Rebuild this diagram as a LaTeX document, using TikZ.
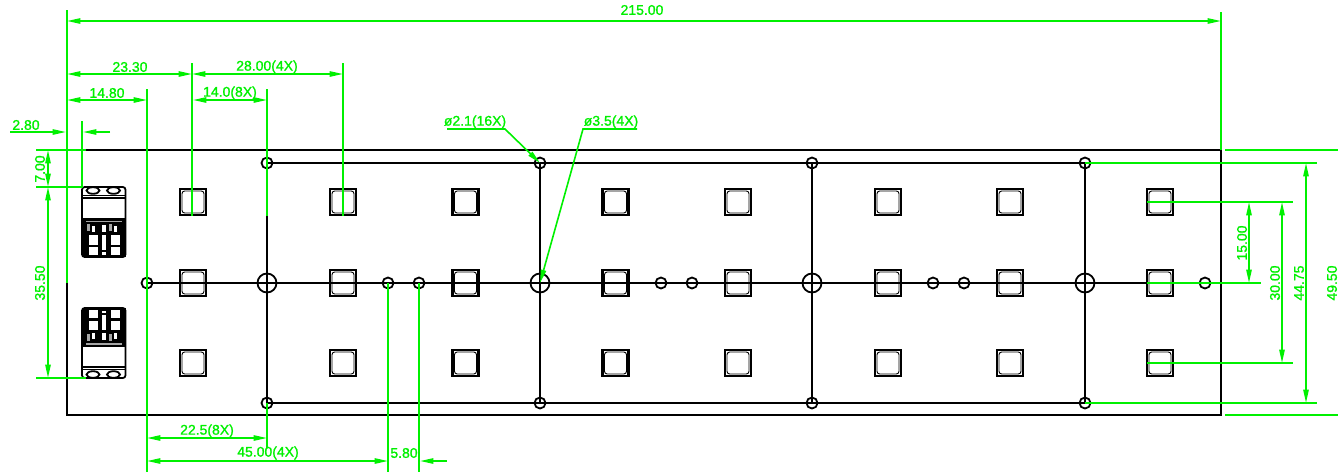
\documentclass[tikz,border=0pt]{standalone}
\usepackage{fontspec}
\setmainfont{Liberation Sans}
\newfontfamily\dimfont[FakeBold=1.2]{Liberation Sans}
\usetikzlibrary{arrows.meta}
\definecolor{dimgreen}{RGB}{0,240,0}
\tikzset{
  part/.style={line width=1.35pt,black},
  padline/.style={line width=1.9pt,black},
  dimline/.style={line width=1.35pt,dimgreen},
  dimtip/.style={dimgreen,{Triangle[length=10pt,width=4pt]}-{Triangle[length=10pt,width=4pt]},line width=1.2pt},
  endtip/.style={dimgreen,-{Triangle[length=10pt,width=4pt]},line width=1.2pt},
  dimtext/.style={dimgreen,inner sep=0pt,font=\dimfont\fontsize{10.5}{11}\selectfont},
  vdimtext/.style={dimtext,rotate=90}
}
\begin{document}
\begin{tikzpicture}[x=0.75pt,y=-0.75pt]
    \useasboundingbox (0,0) rectangle (1338,472);

    % plate and rails
    \draw[part] (67,150) rectangle (1221,415);
    \draw[part] (267,163) rectangle (1085,403);
    \draw[part] (147,283) -- (1205,283);
    \draw[part] (540,163) -- (540,403);
    \draw[part] (812,163) -- (812,403);

    % holes
    \foreach \holex in {267,540,812,1085} {
        \draw[part] (\holex,163) circle (5.5);
        \draw[part] (\holex,403) circle (5.5);
        \draw[part] (\holex,283) circle (9.5);
    }
    \foreach \holex in {147,388,419,661,692,933,964,1205} {
        \draw[part] (\holex,283) circle (5.5);
    }

    % square pads
    \foreach \padx in {193,343,465.5,615.5,738,888,1010,1160} {
        \foreach \pady in {202,283,363} {
            \draw[padline] (\padx-13,\pady-13) rectangle (\padx+13,\pady+13);
            \draw[line width=0.7pt,rounded corners=2pt] (\padx-11,\pady-11) rectangle (\padx+11,\pady+11);
        }
    }

    % the two connectors, one mirrored
    \foreach \cony/\consign in {187/1,378/-1} {
        \begin{scope}[shift={(0,\cony)},yscale=\consign]
            \fill[black] (82,31) rectangle (125.5,70);
            \draw[part,rounded corners=2pt] (82,0) rectangle (125.5,70);
            \draw[part] (93,3.5) ellipse (6.5 and 3.3);
            \draw[part] (113.5,3.5) ellipse (6.5 and 3.3);
            \draw[part] (82,8.5) -- (125.5,8.5);
            \draw[part] (82,11) -- (125.5,11);
            \fill[gray!70] (86,33.5) rectangle (122,35);
            \foreach \winx in {89,111} {
                \fill[white] (\winx,48) rectangle (\winx+8.5,57.5);
                \fill[white] (\winx,60) rectangle (\winx+8.5,68);
                \fill[white] (\winx+3,39) rectangle (\winx+6,45);
                \fill[gray!70] (\winx-2,37) rectangle (\winx+1,44);
            }
            \fill[white] (102,38) rectangle (106,45);
            \fill[white] (102,48) rectangle (106,63);
            \fill[white] (102,65) rectangle (106,67.5);
        \end{scope}
    }

    % extension lines
    \draw[dimline] (67,10) -- (67,283);
    \draw[dimline] (1221,12) -- (1221,150);
    \draw[dimline] (192,63) -- (192,216);
    \draw[dimline] (343,63) -- (343,216);
    \draw[dimline] (147,89) -- (147,472);
    \draw[dimline] (267,89) -- (267,216);
    \draw[dimline] (82,121) -- (82,187);
    \draw[dimline] (36,150) -- (86,150);
    \draw[dimline] (36,187) -- (83,187);
    \draw[dimline] (36,378) -- (86,378);
    \draw[dimline] (267,403) -- (267,448);
    \draw[dimline] (388,283) -- (388,472);
    \draw[dimline] (419,283) -- (419,472);
    \draw[dimline] (1225,150) -- (1338,150);
    \draw[dimline] (1225,415) -- (1338,415);
    \draw[dimline] (1085,163) -- (1317,163);
    \draw[dimline] (1085,403) -- (1317,403);
    \draw[dimline] (1147,202) -- (1293,202);
    \draw[dimline] (1147,363) -- (1293,363);
    \draw[dimline] (1147,283) -- (1261,283);

    % dimension arrows
    \draw[dimtip] (67,21) -- (1221,21);
    \draw[dimtip] (67,74) -- (192,74);
    \draw[dimtip] (192,74) -- (343,74);
    \draw[dimtip] (67,100) -- (147,100);
    \draw[dimtip] (193,100) -- (267,100);
    \draw[endtip] (10,132) -- (66,132);
    \draw[endtip] (110,132) -- (83,132);
    \draw[dimtip] (48,150) -- (48,187);
    \draw[dimtip] (48,187) -- (48,378);
    \draw[dimtip] (147,438) -- (267,438);
    \draw[dimtip] (147,461) -- (388,461);
    \draw[endtip] (447,461) -- (420,461);
    \draw[dimtip] (1249,202) -- (1249,283);
    \draw[dimtip] (1282,202) -- (1282,363);
    \draw[dimtip] (1306,163) -- (1306,403);

    % hole callouts
    \draw[endtip] (447,129) -- (505,129) -- (540,163);
    \draw[endtip] (637,129) -- (583,129) -- (540,283);

    % labels
    \node[dimtext] (overall) at (642,10) {215.00};
    \node[dimtext] (firstpad) at (130,67) {23.30};
    \node[dimtext] (padpitch) at (267,67) {28.00(4X)};
    \node[dimtext] (firsthole) at (107,93) {14.80};
    \node[dimtext] (halfpitch) at (230,93) {14.0(8X)};
    \node[dimtext] (edgegap) at (26,125) {2.80};
    \node[vdimtext] (topgap) at (40,169) {7.00};
    \node[vdimtext] (conspan) at (40,283) {35.50};
    \node[dimtext] (smalldia) at (475,122) {ø2.1(16X)};
    \node[dimtext] (bigdia) at (611,122) {ø3.5(4X)};
    \node[dimtext] (railhalf) at (207,431) {22.5(8X)};
    \node[dimtext] (railpitch) at (268,453) {45.00(4X)};
    \node[dimtext] (holegap) at (404,453) {5.80};
    \node[vdimtext] (padone) at (1242,243) {15.00};
    \node[vdimtext] (padtwo) at (1275,283) {30.00};
    \node[vdimtext] (railspan) at (1299,283) {44.75};
    \node[vdimtext] (platespan) at (1332,283) {49.50};

\end{tikzpicture}
\end{document}
